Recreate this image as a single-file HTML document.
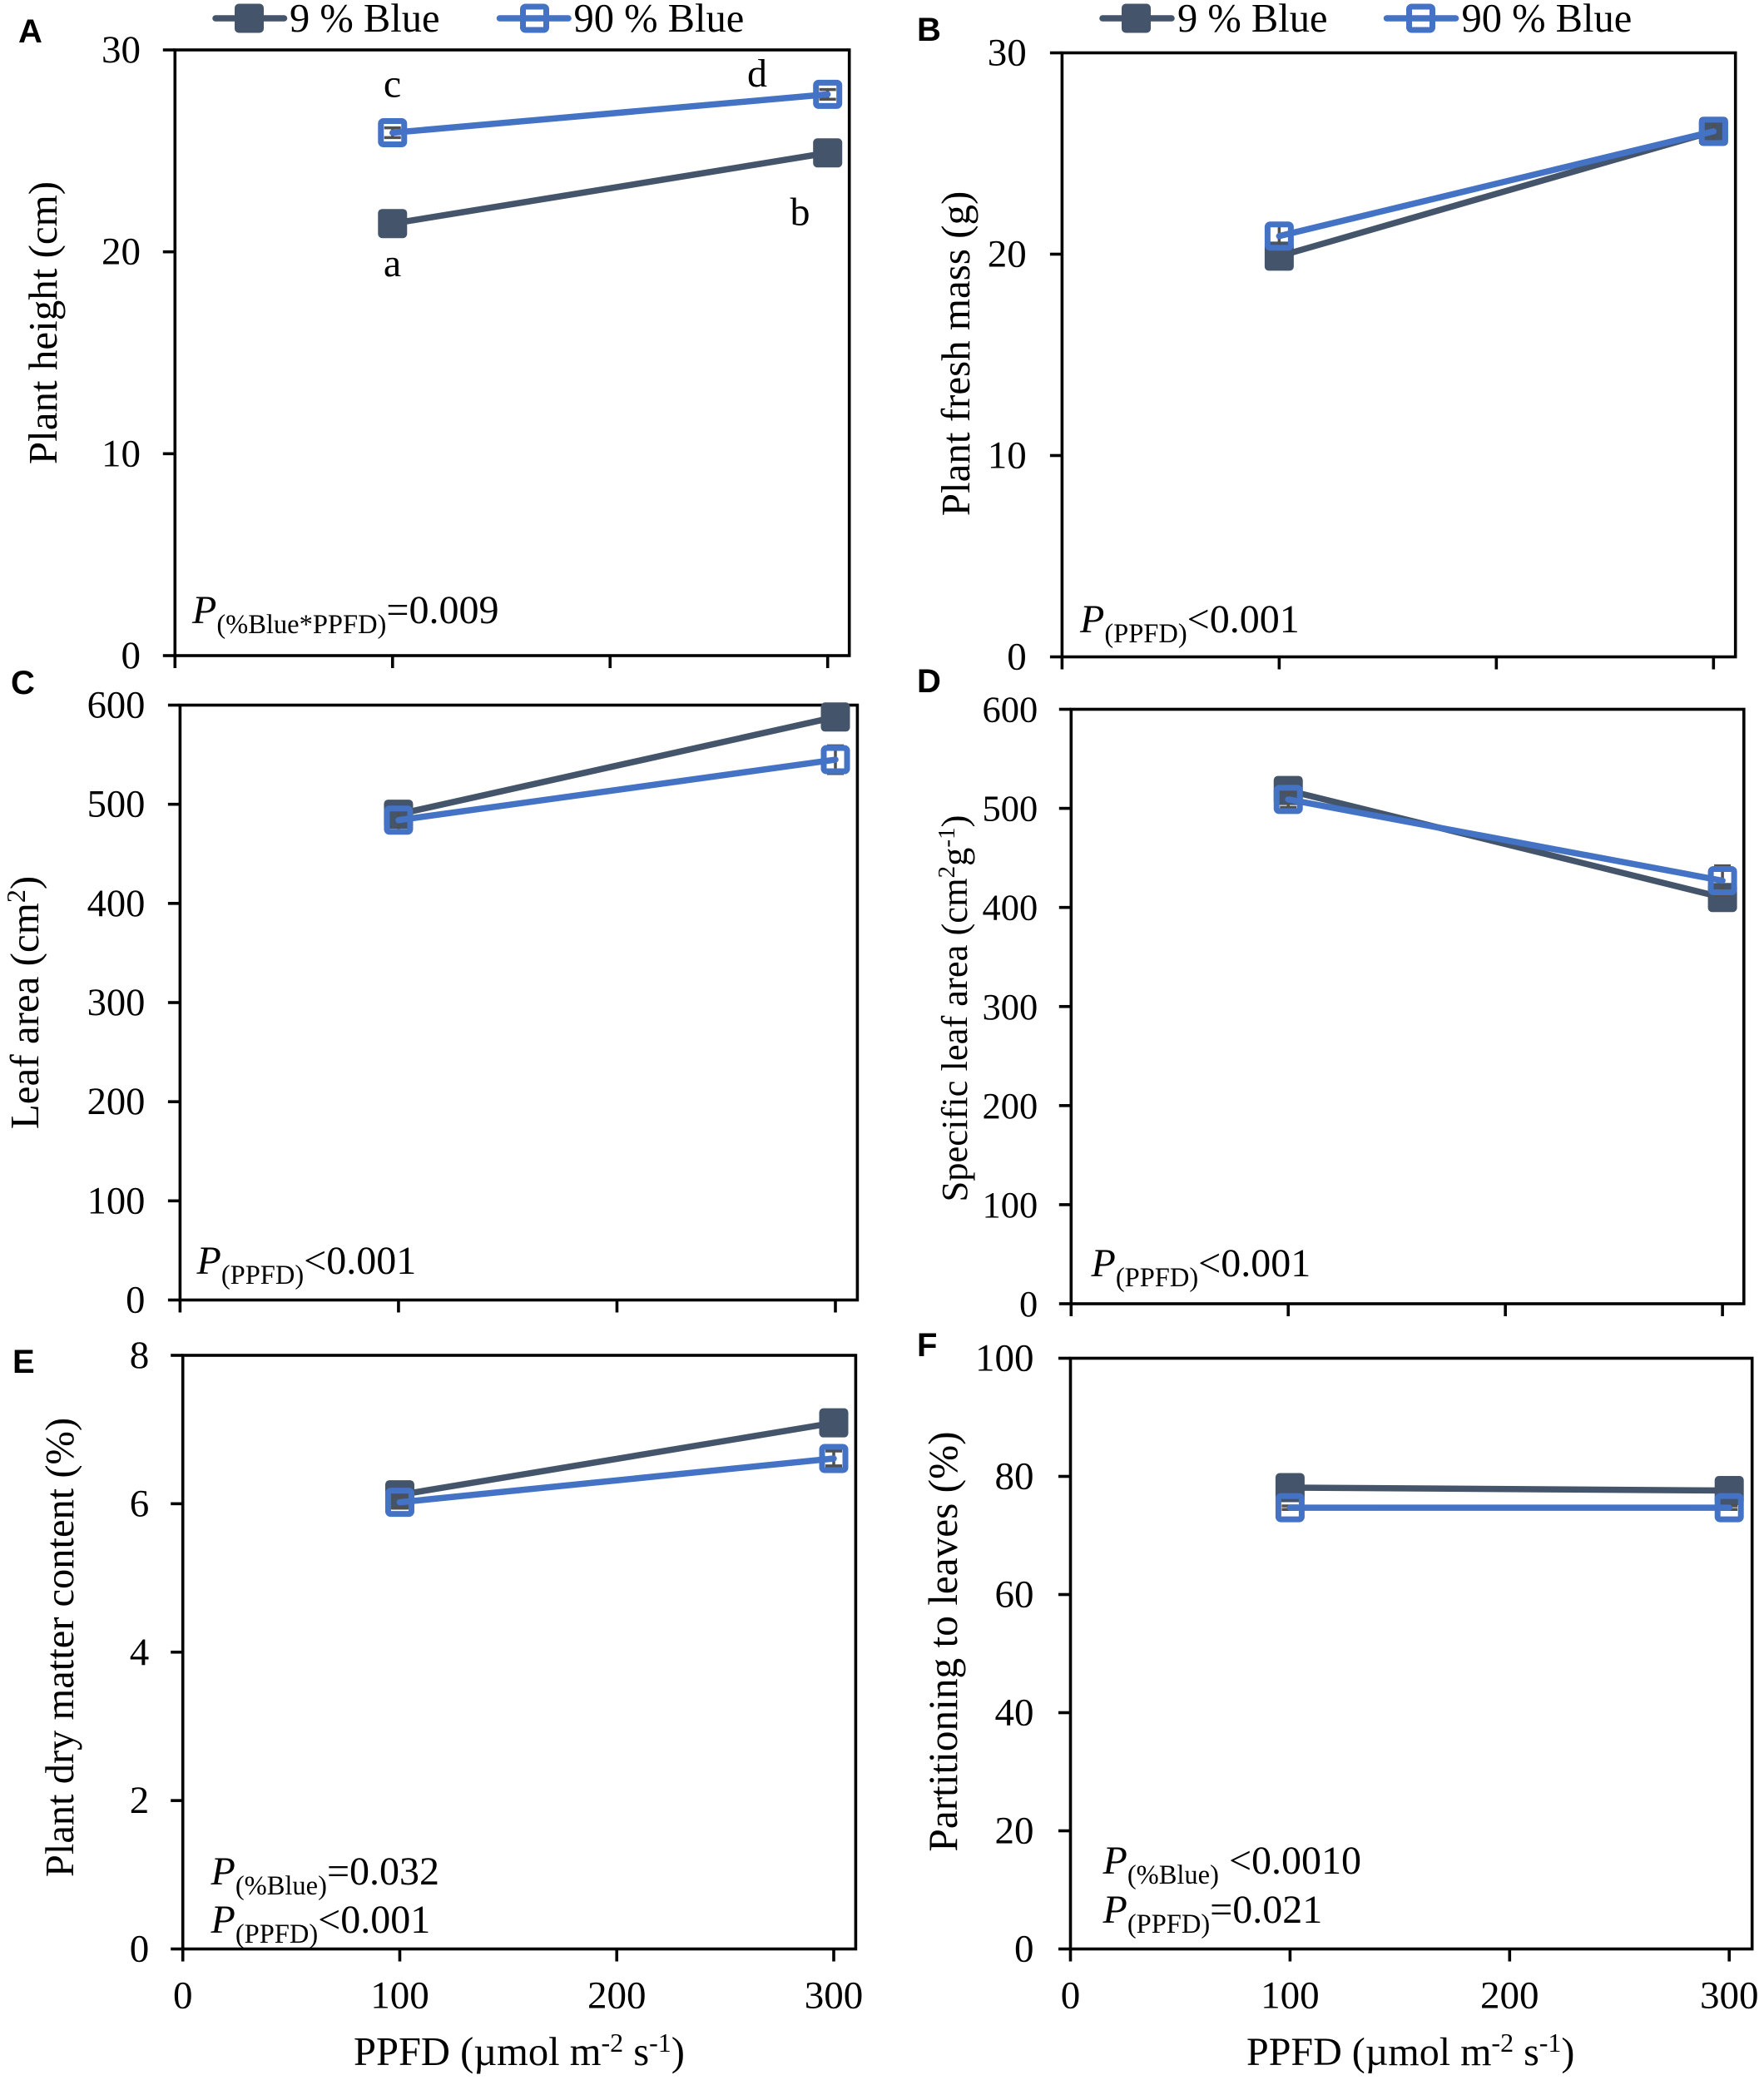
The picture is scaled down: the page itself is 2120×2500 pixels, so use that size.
<!DOCTYPE html>
<html lang="en">
<head>
<meta charset="utf-8">
<title>Plant responses to PPFD and percent blue light</title>
<style>
html,body{margin:0;padding:0;background:#fff;width:2120px;height:2500px;overflow:hidden}
svg{display:block}
text{font-family:"Liberation Serif",serif;font-size:47px;fill:#000}
.panel-letter{font-family:"Liberation Sans",sans-serif;font-size:40px;font-weight:700}
.ytitle{font-size:49px;text-anchor:middle}
.xtitle{font-size:48px}
.legend{font-size:48.5px}
.cld{font-size:48px;text-anchor:middle}
.pval{font-size:48px}
.it{font-style:italic}
.sub{font-size:32.5px}
.sup{font-size:32px}
</style>
</head>
<body>
<svg id="figure" xmlns="http://www.w3.org/2000/svg" width="2120" height="2500" viewBox="0 0 2120 2500">
  <rect x="0" y="0" width="2120" height="2500" fill="#fff"/>

  <!-- Panel letters -->
  <text class="panel-letter" x="22" y="51">A</text>
  <text class="panel-letter" x="1102" y="49">B</text>
  <text class="panel-letter" x="13" y="834">C</text>
  <text class="panel-letter" x="1102" y="832">D</text>
  <text class="panel-letter" x="15" y="1650">E</text>
  <text class="panel-letter" x="1102" y="1630">F</text>

  <!-- Y-axis titles -->
  <text class="ytitle" transform="translate(68 388) rotate(-90)">Plant height (cm)</text>
  <text class="ytitle" transform="translate(1165 425) rotate(-90)">Plant fresh mass (g)</text>
  <text class="ytitle" transform="translate(46 1205) rotate(-90)">Leaf area (cm<tspan class="sup" dy="-16">2</tspan><tspan dy="16">)</tspan></text>
  <text class="ytitle" style="font-size:44.5px" transform="translate(1162 1212) rotate(-90)">Specific leaf area (cm<tspan style="font-size:29px" dy="-15">2</tspan><tspan dy="15">g</tspan><tspan style="font-size:29px" dy="-15">-1</tspan><tspan dy="15">)</tspan></text>
  <text class="ytitle" style="font-size:48.5px" transform="translate(88 1980) rotate(-90)">Plant dry matter content (%)</text>
  <text class="ytitle" style="font-size:49.3px" transform="translate(1150 1973) rotate(-90)">Partitioning to leaves (%)</text>

  <!-- X-axis titles -->
  <text class="xtitle" style="font-size:48.5px" x="425" y="2482">PPFD (µmol m<tspan class="sup" dy="-16">-2</tspan><tspan dy="16"> s</tspan><tspan class="sup" dy="-16">-1</tspan><tspan dy="16">)</tspan></text>
  <text class="xtitle" x="1498" y="2482">PPFD (µmol m<tspan class="sup" dy="-16">-2</tspan><tspan dy="16"> s</tspan><tspan class="sup" dy="-16">-1</tspan><tspan dy="16">)</tspan></text>

  <!-- Legends -->
  <g>
    <g>
      <line x1="259" y1="22" x2="341.500" y2="22" stroke="#44546A" stroke-width="7.500" stroke-linecap="round"/>
      <rect x="282" y="4.500" width="35" height="35" rx="5" fill="#44546A"/>
      <text class="legend" x="348" y="38">9 % Blue</text>
    </g>
    <g>
      <line x1="600.500" y1="22" x2="683" y2="22" stroke="#4472C4" stroke-width="7.500" stroke-linecap="round"/>
      <rect x="628.500" y="8" width="28" height="28" rx="3" fill="none" stroke="#4472C4" stroke-width="7"/>
      <text class="legend" x="689.500" y="38">90 % Blue</text>
    </g>
  </g>
  <g>
    <g>
      <line x1="1325" y1="22" x2="1408" y2="22" stroke="#44546A" stroke-width="7.500" stroke-linecap="round"/>
      <rect x="1348" y="4.500" width="35" height="35" rx="5" fill="#44546A"/>
      <text class="legend" x="1415" y="38">9 % Blue</text>
    </g>
    <g>
      <line x1="1666.500" y1="22" x2="1749.500" y2="22" stroke="#4472C4" stroke-width="7.500" stroke-linecap="round"/>
      <rect x="1693.500" y="8" width="28" height="28" rx="3" fill="none" stroke="#4472C4" stroke-width="7"/>
      <text class="legend" x="1756.500" y="38">90 % Blue</text>
    </g>
  </g>

  <!-- Significance letters (panel A) -->
  <text class="cld" x="471.500" y="332">a</text>
  <text class="cld" x="961.500" y="270.500">b</text>
  <text class="cld" x="471.500" y="116.500">c</text>
  <text class="cld" x="910" y="104">d</text>

  <!-- P-value annotations -->
  <text class="pval" x="231" y="749"><tspan class="it">P</tspan><tspan class="sub" dy="12">(%Blue*PPFD)</tspan><tspan dy="-12">=0.009</tspan></text>
  <text class="pval" x="1298" y="760"><tspan class="it">P</tspan><tspan class="sub" dy="12">(PPFD)</tspan><tspan dy="-12">&lt;0.001</tspan></text>
  <text class="pval" x="236.500" y="1531"><tspan class="it">P</tspan><tspan class="sub" dy="12">(PPFD)</tspan><tspan dy="-12">&lt;0.001</tspan></text>
  <text class="pval" x="1311.500" y="1534"><tspan class="it">P</tspan><tspan class="sub" dy="12">(PPFD)</tspan><tspan dy="-12">&lt;0.001</tspan></text>
  <text class="pval" x="253.500" y="2265"><tspan class="it">P</tspan><tspan class="sub" dy="12">(%Blue)</tspan><tspan dy="-12">=0.032</tspan></text>
  <text class="pval" x="253.500" y="2323"><tspan class="it">P</tspan><tspan class="sub" dy="12">(PPFD)</tspan><tspan dy="-12">&lt;0.001</tspan></text>
  <text class="pval" x="1325.500" y="2252"><tspan class="it">P</tspan><tspan class="sub" dy="12">(%Blue)</tspan><tspan dy="-12"> &lt;0.0010</tspan></text>
  <text class="pval" x="1325.500" y="2311"><tspan class="it">P</tspan><tspan class="sub" dy="12">(PPFD)</tspan><tspan dy="-12">=0.021</tspan></text>

  <g id="charts"></g>
</svg>

<script>
// ---- Data ----
const ppfdLevels = [100, 300];
const xTickValues = [0, 100, 200, 300];

const heightTicks = [0, 10, 20, 30];
const heightBlue9 = [21.4, 24.9];
const heightBlue90 = [25.9, 27.8];
const heightErr9 = [0.25, 0.25];
const heightErr90 = [0.24, 0.24];

const freshMassTicks = [0, 10, 20, 30];
const freshMassBlue9 = [19.9, 26.1];
const freshMassBlue90 = [20.9, 26.1];
const freshMassErr9 = [0.3, 0.4];
const freshMassErr90 = [0.6, 0.5];

const leafAreaTicks = [0, 100, 200, 300, 400, 500, 600];
const leafAreaBlue9 = [490, 588];
const leafAreaBlue90 = [484, 545];
const leafAreaErr9 = [12, 10];
const leafAreaErr90 = [12, 14];

const slaTicks = [0, 100, 200, 300, 400, 500, 600];
const slaBlue9 = [518, 410];
const slaBlue90 = [509, 427];
const slaErr9 = [10, 10];
const slaErr90 = [8, 15];

const dryMatterTicks = [0, 2, 4, 6, 8];
const dryMatterBlue9 = [6.12, 7.09];
const dryMatterBlue90 = [6.02, 6.61];
const dryMatterErr9 = [0.08, 0.08];
const dryMatterErr90 = [0.08, 0.1];

const partitionTicks = [0, 20, 40, 60, 80, 100];
const partitionBlue9 = [78.1, 77.6];
const partitionBlue90 = [74.7, 74.7];
const partitionErr9 = [0.4, 0.4];
const partitionErr90 = [0.3, 0.3];

// ---- Panel layout (frame geometry only) ----
const NS = 'http://www.w3.org/2000/svg';
const DARK = '#44546A';
const BLUE = '#4472C4';
const ERR = '#505050';
const AXW = 3.6;

const panels = [
  { id: 'a', frame: { left: 210.3, x300: 994.7, right: 1020.7, top: 60, bottom: 788 }, labelGap: 41.3, labelSize: 47, yTicks: heightTicks, s9: heightBlue9, s90: heightBlue90, e9: heightErr9, e90: heightErr90, xLabels: false },
  { id: 'b', frame: { left: 1276.4, x300: 2059.3, right: 2085.7, top: 63.5, bottom: 789.5 }, labelGap: 42.6, labelSize: 47, yTicks: freshMassTicks, s9: freshMassBlue9, s90: freshMassBlue90, e9: freshMassErr9, e90: freshMassErr90, xLabels: false },
  { id: 'c', frame: { left: 216.4, x300: 1004, right: 1030.4, top: 847.5, bottom: 1562.5 }, labelGap: 42, labelSize: 46.5, yTicks: leafAreaTicks, s9: leafAreaBlue9, s90: leafAreaBlue90, e9: leafAreaErr9, e90: leafAreaErr90, xLabels: false },
  { id: 'd', frame: { left: 1287.3, x300: 2070.1, right: 2095.8, top: 852.5, bottom: 1567 }, labelGap: 40, labelSize: 44.5, yTicks: slaTicks, s9: slaBlue9, s90: slaBlue90, e9: slaErr9, e90: slaErr90, xLabels: false },
  { id: 'e', frame: { left: 219.7, x300: 1002, right: 1028.4, top: 1629, bottom: 2342.5 }, labelGap: 40.5, labelSize: 47, yTicks: dryMatterTicks, s9: dryMatterBlue9, s90: dryMatterBlue90, e9: dryMatterErr9, e90: dryMatterErr90, xLabels: true },
  { id: 'f', frame: { left: 1286.5, x300: 2078.2, right: 2105.7, top: 1632.5, bottom: 2342.5 }, labelGap: 44, labelSize: 47, yTicks: partitionTicks, s9: partitionBlue9, s90: partitionBlue90, e9: partitionErr9, e90: partitionErr90, xLabels: true }
];

function make(tag, attrs, parent, name) {
  const node = document.createElementNS(NS, tag);
  for (const k in attrs) node.setAttribute(k, attrs[k]);
  
  
  parent.appendChild(node);
  return node;
}

function xScale(f) { return v => f.left + v * (f.x300 - f.left) / 300; }
function yScale(f, maxV) { return v => f.bottom - v * (f.bottom - f.top) / maxV; }

function drawSeries(g, label, xs, ys, vals, errs, color, hollow) {
  const sg = make('g', {}, g, 'series-' + label);
  // error bars
  vals.forEach((v, i) => {
    const x = xs(ppfdLevels[i]);
    const hi = ys(v + errs[i]);
    const lo = ys(v - errs[i]);
    const eb = make('g', { stroke: ERR, 'stroke-width': 3.5, fill: 'none' }, sg, 'error-bar-' + label + '-' + ppfdLevels[i]);
    make('line', { x1: x, y1: hi, x2: x, y2: lo }, eb, 'error-stem');
    make('line', { x1: x - 10, y1: hi, x2: x + 10, y2: hi }, eb, 'error-cap-upper');
    make('line', { x1: x - 10, y1: lo, x2: x + 10, y2: lo }, eb, 'error-cap-lower');
  });
  // markers
  vals.forEach((v, i) => {
    const x = xs(ppfdLevels[i]);
    const y = ys(v);
    if (hollow) {
      make('rect', { x: x - 14, y: y - 14, width: 28, height: 28, rx: 3, fill: 'none', stroke: color, 'stroke-width': 7 }, sg, 'point-' + label + '-' + ppfdLevels[i]);
    } else {
      make('rect', { x: x - 17.5, y: y - 17.5, width: 35, height: 35, rx: 5, fill: color }, sg, 'point-' + label + '-' + ppfdLevels[i]);
    }
  });
  const pts = vals.map((v, i) => xs(ppfdLevels[i]) + ',' + ys(v)).join(' ');
  make('polyline', { points: pts, fill: 'none', stroke: color, 'stroke-width': 7.5, 'stroke-linecap': 'round', 'stroke-linejoin': 'round' }, sg, 'line-' + label);
}

function drawPanel(p) {
  const root = document.getElementById('charts');
  const g = make('g', {}, root, 'panel-' + p.id);
  const f = p.frame;
  const maxV = p.yTicks[p.yTicks.length - 1];
  const xs = xScale(f);
  const ys = yScale(f, maxV);

  // frame
  make('rect', { x: f.left, y: f.top, width: f.right - f.left, height: f.bottom - f.top, fill: 'none', stroke: '#000', 'stroke-width': AXW }, g, 'plot-frame');

  // y ticks + labels
  const yAxis = make('g', {}, g, 'y-axis');
  p.yTicks.forEach(t => {
    const y = ys(t);
    make('line', { x1: f.left - 14.5, y1: y, x2: f.left, y2: y, stroke: '#000', 'stroke-width': AXW }, yAxis, 'y-tick');
    const lab = make('text', { x: f.left - p.labelGap, y: y + 15, 'text-anchor': 'end', style: 'font-size:' + p.labelSize + 'px' }, yAxis, 'y-tick-label');
    lab.textContent = String(t);
  });

  // x ticks + labels
  const xAxis = make('g', {}, g, 'x-axis');
  xTickValues.forEach(t => {
    const x = xs(t);
    make('line', { x1: x, y1: f.bottom, x2: x, y2: f.bottom + 15, stroke: '#000', 'stroke-width': AXW }, xAxis, 'x-tick');
    if (p.xLabels) {
      const lab = make('text', { x: x, y: f.bottom + 71, 'text-anchor': 'middle' }, xAxis, 'x-tick-label');
      lab.textContent = String(t);
    }
  });

  drawSeries(g, '9-percent-blue', xs, ys, p.s9, p.e9, DARK, false);
  drawSeries(g, '90-percent-blue', xs, ys, p.s90, p.e90, BLUE, true);
}

panels.forEach(drawPanel);
</script>
</body>
</html>
